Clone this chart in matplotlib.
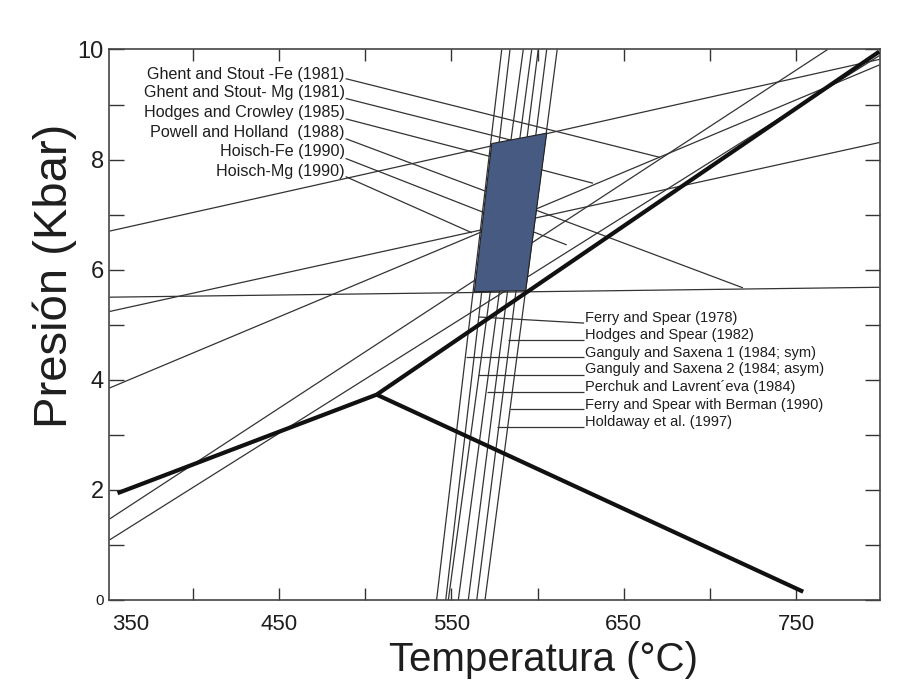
import matplotlib
matplotlib.use('Agg')
import matplotlib.pyplot as plt

plt.rcParams['font.family'] = ['Liberation Sans', 'DejaVu Sans']

# axes
x_ticks = [400, 450, 500, 550, 600, 650, 700, 750]
x_tick_labels = ['', '450', '', '550', '', '650', '', '750']
y_ticks = [0, 1, 2, 3, 4, 5, 6, 7, 8, 9, 10]
y_tick_labels = ['0', '', '2', '', '4', '', '6', '', '8', '', '10']

# Al2SiO5 triple point lines (T in C, P in kbar)
ky_T = [356.2, 506.6, 798.3]
ky_P = [1.94, 3.73, 9.96]
sil_T = [506.6, 754.2]
sil_P = [3.73, 0.15]

# barometers: start and end points
baro_T0 = [351.5, 351.5, 351.5, 351.5, 351.5, 351.5]
baro_P0 = [6.70, 5.24, 5.50, 3.85, 1.47, 1.09]
baro_T1 = [798.5, 798.5, 798.5, 798.5, 768.4, 798.5]
baro_P1 = [9.82, 8.31, 5.68, 9.72, 10.0, 9.89]

baro_labels = ['Ghent and Stout -Fe (1981)', 'Ghent and Stout- Mg (1981)',
               'Hodges and Crowley (1985)', 'Powell and Holland  (1988)',
               'Hoisch-Fe (1990)', 'Hoisch-Mg (1990)']
baro_label_P = [9.54, 9.21, 8.85, 8.49, 8.14, 7.79]
baro_lead_P0 = [9.47, 9.11, 8.74, 8.38, 8.02, 7.69]
baro_lead_T1 = [671.0, 585.0, 632.2, 719.2, 616.9, 561.9]
baro_lead_P1 = [8.04, 8.35, 7.57, 5.67, 6.45, 6.67]

# thermometers: T at P=0 and at P=10
thermo_T0 = [541.4, 546.7, 548.2, 554.0, 559.8, 564.7, 569.5]
thermo_T1 = [579.2, 584.0, 591.7, 596.6, 600.4, 605.3, 611.4]

thermo_labels = ['Ferry and Spear (1978)', 'Hodges and Spear (1982)',
                 'Ganguly and Saxena 1 (1984; sym)', 'Ganguly and Saxena 2 (1984; asym)',
                 'Perchuk and Lavrent\u00b4eva (1984)', 'Ferry and Spear with Berman (1990)',
                 'Holdaway et al. (1997)']
thermo_label_P = [5.13, 4.81, 4.49, 4.19, 3.86, 3.55, 3.23]
thermo_lead_T0 = [565.9, 582.7, 558.6, 565.2, 570.4, 584.0, 576.7]
thermo_lead_P0 = [5.14, 4.72, 4.42, 4.09, 3.77, 3.46, 3.14]
thermo_lead_P1 = [5.03, 4.72, 4.42, 4.09, 3.77, 3.46, 3.14]

# P-T box
poly_T = [563.3, 573.4, 605.3, 593.1]
poly_P = [5.60, 8.29, 8.48, 5.62]

thin = dict(color='#333333', lw=0.9, solid_capstyle='butt')
txt = '#1e1e1e'

fig = plt.figure(figsize=(9.23, 6.86), dpi=100)
ax = fig.add_axes([0.1186, 0.1254, 0.8343, 0.8025])

for t0, p0, t1, p1 in zip(baro_T0, baro_P0, baro_T1, baro_P1):
    ax.plot([t0, t1], [p0, p1], zorder=2, **thin)

for t0, t1 in zip(thermo_T0, thermo_T1):
    ax.plot([t0, t1], [0, 10], zorder=2, **thin)

lab_T = 488.0
for lab, lp, p0, t1, p1 in zip(baro_labels, baro_label_P, baro_lead_P0, baro_lead_T1, baro_lead_P1):
    ax.plot([lab_T + 0.6, t1], [p0, p1], zorder=2, **thin)
    ax.text(lab_T, lp, lab, ha='right', va='center', fontsize=11.6, color=txt)

th_lab_T = 627.0
for lab, lp, t0, p0, p1 in zip(thermo_labels, thermo_label_P, thermo_lead_T0, thermo_lead_P0, thermo_lead_P1):
    ax.plot([t0, th_lab_T], [p0, p1], zorder=2, **thin)
    ax.text(th_lab_T + 0.3, lp, lab, ha='left', va='center', fontsize=10.5, color=txt)

ax.fill(poly_T, poly_P, facecolor='#475a82', edgecolor='#222222', lw=0.8, zorder=3)

ax.plot(ky_T, ky_P, color='#111111', lw=3.0, zorder=4, solid_capstyle='butt')
ax.plot(sil_T, sil_P, color='#111111', lw=3.0, zorder=4, solid_capstyle='butt')

ax.set_xlim(351.5, 798.5)
ax.set_ylim(0, 10)
ax.set_xticks(x_ticks)
ax.set_xticklabels(x_tick_labels, fontsize=16, color=txt)
ax.set_yticks(y_ticks)
ax.set_yticklabels(y_tick_labels, fontsize=17, color=txt)
ax.get_yticklabels()[0].set_fontsize(11)
ax.annotate('350', xy=(0, 0), xycoords='axes fraction', xytext=(2, -10),
            textcoords='offset points', ha='left', va='top', fontsize=16, color=txt)

ax.tick_params(axis='both', direction='in', top=True, right=True, width=1.0, color='#333333')
ax.tick_params(axis='x', length=8.7, pad=10)
ax.tick_params(axis='y', length=11, pad=4)
for s in ax.spines.values():
    s.set_color('#444444')
    s.set_linewidth(1.2)

ax.set_xlabel('Temperatura (\u00b0C)', fontsize=29, color=txt)
ax.xaxis.set_label_coords(0.563, -0.075)
ax.xaxis.label.set_va('top')
ax.set_ylabel('Presi\u00f3n (Kbar)', fontsize=34, color=txt)
ax.yaxis.set_label_coords(-0.042, 0.5886)

fig.savefig('out.png', dpi=100, facecolor='white')
